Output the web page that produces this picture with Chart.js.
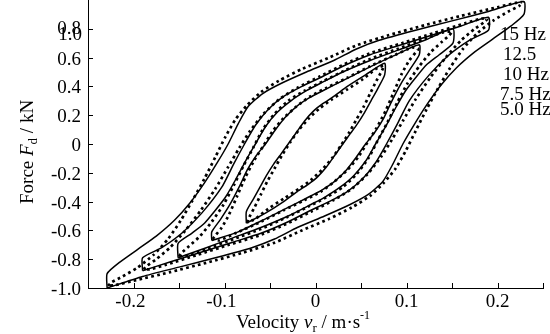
<!DOCTYPE html>
<html>
<head>
<meta charset="utf-8">
<script src="https://cdn.jsdelivr.net/npm/chart.js@4.4.1/dist/chart.umd.min.js"></script>
<style>
  html, body { margin: 0; padding: 0; background: #fff; }
  canvas { display: block; }
</style>
</head>
<body>
<canvas id="chart" width="550" height="334"></canvas>
<script>
// velocity (m/s), force (kN); solid = test, dotted = model
const solid15 = [[-0.229,-1.00],[-0.229,-0.90],[-0.215,-0.82],[-0.195,-0.73],[-0.175,-0.64],[-0.155,-0.53],[-0.138,-0.41],[-0.122,-0.27],[-0.108,-0.13],[-0.096,0.00],[-0.085,0.14],[-0.074,0.26],[-0.058,0.35],[-0.038,0.42],[-0.010,0.50],[0.020,0.58],[0.045,0.66],[0.070,0.72],[0.110,0.79],[0.150,0.855],[0.190,0.92],[0.229,0.99],
  [0.229,0.90],[0.215,0.82],[0.195,0.73],[0.175,0.64],[0.155,0.53],[0.138,0.41],[0.122,0.27],[0.108,0.13],[0.096,0.00],[0.085,-0.14],[0.074,-0.26],[0.058,-0.35],[0.038,-0.42],[0.010,-0.50],[-0.020,-0.58],[-0.045,-0.66],[-0.070,-0.72],[-0.110,-0.79],[-0.150,-0.855],[-0.190,-0.92],[-0.229,-1.00]];
const dotted15 = [[-0.228,-0.985],[-0.224,-0.96],[-0.212,-0.92],[-0.196,-0.86],[-0.178,-0.77],[-0.162,-0.66],[-0.148,-0.53],[-0.135,-0.39],[-0.122,-0.24],[-0.110,-0.09],[-0.099,0.05],[-0.088,0.17],[-0.075,0.27],[-0.060,0.36],[-0.040,0.44],[-0.015,0.52],[0.015,0.60],[0.045,0.685],[0.080,0.755],[0.120,0.825],[0.160,0.89],[0.200,0.95],[0.220,0.98],[0.228,0.985],
  [0.224,0.96],[0.212,0.92],[0.196,0.86],[0.178,0.77],[0.162,0.66],[0.148,0.53],[0.135,0.39],[0.122,0.24],[0.110,0.09],[0.099,-0.05],[0.088,-0.17],[0.075,-0.27],[0.060,-0.36],[0.040,-0.44],[0.015,-0.52],[-0.015,-0.60],[-0.045,-0.685],[-0.080,-0.755],[-0.120,-0.825],[-0.160,-0.89],[-0.200,-0.95],[-0.220,-0.98],[-0.228,-0.985]];

const solid125 = [[-0.190,-0.88],[-0.190,-0.79],[-0.169,-0.72],[-0.147,-0.62],[-0.125,-0.48],[-0.103,-0.30],[-0.090,-0.14],[-0.078,0.00],[-0.066,0.13],[-0.052,0.24],[-0.035,0.33],[-0.015,0.40],[0.005,0.46],[0.030,0.54],[0.060,0.62],[0.090,0.68],[0.125,0.75],[0.160,0.82],[0.190,0.88],
  [0.190,0.79],[0.169,0.72],[0.147,0.62],[0.125,0.48],[0.103,0.30],[0.090,0.14],[0.078,0.00],[0.066,-0.13],[0.052,-0.24],[0.035,-0.33],[0.015,-0.40],[-0.005,-0.46],[-0.030,-0.54],[-0.060,-0.62],[-0.090,-0.68],[-0.125,-0.75],[-0.160,-0.82],[-0.190,-0.88]];
const dotted125 = [[-0.189,-0.87],[-0.185,-0.845],[-0.175,-0.80],[-0.160,-0.72],[-0.143,-0.60],[-0.126,-0.46],[-0.110,-0.31],[-0.096,-0.16],[-0.084,-0.03],[-0.072,0.09],[-0.057,0.21],[-0.040,0.31],[-0.020,0.39],[0.005,0.47],[0.032,0.555],[0.062,0.635],[0.095,0.70],[0.130,0.77],[0.165,0.84],[0.182,0.87],[0.189,0.87],
  [0.185,0.845],[0.175,0.80],[0.160,0.72],[0.143,0.60],[0.126,0.46],[0.110,0.31],[0.096,0.16],[0.084,0.03],[0.072,-0.09],[0.057,-0.21],[0.040,-0.31],[0.020,-0.39],[-0.005,-0.47],[-0.032,-0.555],[-0.062,-0.635],[-0.095,-0.70],[-0.130,-0.77],[-0.165,-0.84],[-0.182,-0.87],[-0.189,-0.87]];

const solid10 = [[-0.151,-0.79],[-0.151,-0.69],[-0.136,-0.62],[-0.122,-0.55],[-0.110,-0.46],[-0.099,-0.37],[-0.088,-0.25],[-0.077,-0.12],[-0.066,0.00],[-0.055,0.12],[-0.042,0.22],[-0.027,0.30],[-0.010,0.37],[0.005,0.42],[0.030,0.50],[0.060,0.58],[0.090,0.65],[0.120,0.72],[0.151,0.80],
  [0.151,0.70],[0.136,0.62],[0.122,0.55],[0.110,0.46],[0.099,0.37],[0.088,0.25],[0.077,0.12],[0.066,0.00],[0.055,-0.12],[0.042,-0.22],[0.027,-0.30],[0.010,-0.37],[-0.005,-0.42],[-0.030,-0.50],[-0.060,-0.58],[-0.090,-0.65],[-0.120,-0.72],[-0.151,-0.79]];
const dotted10 = [[-0.150,-0.78],[-0.147,-0.755],[-0.139,-0.71],[-0.127,-0.64],[-0.114,-0.54],[-0.101,-0.42],[-0.090,-0.29],[-0.079,-0.15],[-0.068,-0.02],[-0.058,0.10],[-0.045,0.21],[-0.030,0.30],[-0.012,0.37],[0.008,0.435],[0.032,0.51],[0.060,0.59],[0.090,0.66],[0.120,0.73],[0.140,0.775],[0.150,0.78],
  [0.147,0.755],[0.139,0.71],[0.127,0.64],[0.114,0.54],[0.101,0.42],[0.090,0.29],[0.079,0.15],[0.068,0.02],[0.058,-0.10],[0.045,-0.21],[0.030,-0.30],[0.012,-0.37],[-0.008,-0.435],[-0.032,-0.51],[-0.060,-0.59],[-0.090,-0.66],[-0.120,-0.73],[-0.140,-0.775],[-0.150,-0.78]];

const solid75 = [[-0.114,-0.67],[-0.114,-0.61],[-0.104,-0.52],[-0.094,-0.42],[-0.084,-0.30],[-0.075,-0.18],[-0.065,-0.08],[-0.055,0.00],[-0.045,0.09],[-0.034,0.18],[-0.021,0.26],[-0.007,0.32],[0.008,0.37],[0.030,0.44],[0.055,0.52],[0.085,0.61],[0.114,0.69],
  [0.114,0.62],[0.104,0.52],[0.094,0.42],[0.084,0.30],[0.075,0.18],[0.065,0.08],[0.055,0.00],[0.045,-0.09],[0.034,-0.18],[0.021,-0.26],[0.007,-0.32],[-0.008,-0.37],[-0.030,-0.44],[-0.055,-0.52],[-0.085,-0.61],[-0.114,-0.67]];
const dotted75 = [[-0.113,-0.66],[-0.110,-0.635],[-0.103,-0.58],[-0.095,-0.49],[-0.086,-0.36],[-0.077,-0.23],[-0.067,-0.11],[-0.057,-0.01],[-0.047,0.09],[-0.035,0.18],[-0.021,0.26],[-0.006,0.33],[0.012,0.39],[0.035,0.46],[0.060,0.54],[0.088,0.62],[0.106,0.67],[0.113,0.66],
  [0.110,0.635],[0.103,0.58],[0.095,0.49],[0.086,0.36],[0.077,0.23],[0.067,0.11],[0.057,0.01],[0.047,-0.09],[0.035,-0.18],[0.021,-0.26],[0.006,-0.33],[-0.012,-0.39],[-0.035,-0.46],[-0.060,-0.54],[-0.088,-0.62],[-0.106,-0.67],[-0.113,-0.66]];

const solid50 = [[-0.076,-0.55],[-0.076,-0.47],[-0.068,-0.38],[-0.061,-0.30],[-0.054,-0.22],[-0.046,-0.14],[-0.038,-0.07],[-0.030,0.00],[-0.021,0.08],[-0.012,0.16],[-0.002,0.23],[0.008,0.28],[0.020,0.33],[0.035,0.40],[0.055,0.48],[0.076,0.56],
  [0.076,0.48],[0.068,0.38],[0.061,0.30],[0.054,0.22],[0.046,0.14],[0.038,0.07],[0.030,0.00],[0.021,-0.08],[0.012,-0.16],[0.002,-0.23],[-0.008,-0.28],[-0.020,-0.33],[-0.035,-0.40],[-0.055,-0.48],[-0.076,-0.55]];
const dotted50 = [[-0.075,-0.545],[-0.073,-0.51],[-0.067,-0.44],[-0.060,-0.35],[-0.053,-0.26],[-0.045,-0.17],[-0.037,-0.08],[-0.028,0.01],[-0.018,0.10],[-0.007,0.18],[0.005,0.25],[0.018,0.31],[0.035,0.38],[0.052,0.45],[0.066,0.52],[0.075,0.545],
  [0.073,0.51],[0.067,0.44],[0.060,0.35],[0.053,0.26],[0.045,0.17],[0.037,0.08],[0.028,-0.01],[0.018,-0.10],[0.007,-0.18],[-0.005,-0.25],[-0.018,-0.31],[-0.035,-0.38],[-0.052,-0.45],[-0.066,-0.52],[-0.075,-0.545]];

const legendLabels = ["15 Hz", "12.5", "10 Hz", "7.5 Hz", "5.0 Hz"];
const xTickValues = [-0.2, -0.1, 0, 0.1, 0.2];
const xTickLabels = ["-0.2", "-0.1", "0", "0.1", "0.2"];
const yTickValues = [-1.0, -0.8, -0.6, -0.4, -0.2, 0, 0.2, 0.4, 0.6, 0.8];
const yTickLabels = ["-1.0", "-0.8", "-0.6", "-0.4", "-0.2", "0", "0.2", "0.4", "0.6", "0.8"];

const FONT = '"Liberation Serif", "Times New Roman", serif';

function line(points, dotted) {
  return {
    data: points.map(p => ({ x: p[0], y: p[1] })),
    showLine: true,
    fill: false,
    borderColor: "#000",
    borderWidth: dotted ? 2.7 : 1.5,
    borderDash: dotted ? [2.7, 3.3] : [],
    pointRadius: 0,
    tension: 0.2
  };
}

// draws a run of text pieces (normal / italic / sub / sup) from x,y along the baseline
function drawRich(ctx, parts, x, y) {
  for (const p of parts) {
    ctx.font = p.font;
    ctx.fillText(p.t, x, y + (p.dy || 0));
    x += ctx.measureText(p.t).width;
  }
}

const decor = {
  id: "decor",
  afterDraw(chart) {
    const { ctx, chartArea: a, scales: { x, y } } = chart;
    ctx.save();
    ctx.strokeStyle = "#000";
    ctx.fillStyle = "#000";
    ctx.lineWidth = 1;

    // inward tick marks
    ctx.beginPath();
    for (const t of x.ticks) {
      const px = Math.round(x.getPixelForValue(t.value)) + 0.5;
      ctx.moveTo(px, a.bottom);
      ctx.lineTo(px, a.bottom - 5);
    }
    for (const v of yTickValues) {
      const py = Math.round(y.getPixelForValue(v)) + 0.5;
      ctx.moveTo(a.left, py);
      ctx.lineTo(a.left + 5, py);
    }
    ctx.stroke();

    const main = "19px " + FONT;
    ctx.font = main;

    // x tick labels, digits centred on the tick, minus hanging left
    ctx.textAlign = "left";
    ctx.textBaseline = "alphabetic";
    xTickValues.forEach((v, i) => {
      const lab = xTickLabels[i];
      const body = lab.replace("-", "");
      const wBody = ctx.measureText(body).width;
      const wMinus = lab.startsWith("-") ? ctx.measureText("-").width : 0;
      const px = x.getPixelForValue(v);
      ctx.fillText(lab, px - wBody / 2 - wMinus, a.bottom + 19);
    });

    // y tick labels
    ctx.textAlign = "right";
    yTickValues.forEach((v, i) => {
      const py = y.getPixelForValue(v);
      const dy = v === 0.8 ? 5 : 7;
      ctx.fillText(yTickLabels[i], a.left - 7, py + dy);
    });
    // the "1.0" label sits on top of "0.8" in the original
    ctx.fillText("1.0", a.left - 6, y.getPixelForValue(0.8) + 11);

    // legend
    ctx.textAlign = "left";
    const legendY = [40, 60, 80, 100, 115];
    const legendX = [500, 503, 503, 500, 500];
    legendLabels.forEach((s, i) => ctx.fillText(s, legendX[i], legendY[i]));

    // x axis title
    const it = "italic 19px " + FONT;
    const small = "13px " + FONT;
    const xParts = [
      { t: "Velocity ", font: main },
      { t: "v", font: it },
      { t: "r", font: small, dy: 4 },
      { t: " / m\u00b7s", font: main },
      { t: "-1", font: "12px " + FONT, dy: -9 }
    ];
    drawRich(ctx, xParts, 236, 328);

    // y axis title, rotated
    ctx.save();
    ctx.translate(33, 204);
    ctx.rotate(-Math.PI / 2);
    const yParts = [
      { t: "Force ", font: main },
      { t: "F", font: it },
      { t: "d", font: small, dy: 4 },
      { t: " / kN", font: main }
    ];
    drawRich(ctx, yParts, 0, 0);
    ctx.restore();

    ctx.restore();
  }
};

new Chart(document.getElementById("chart"), {
  type: "scatter",
  data: {
    datasets: [
      line(solid15, false), line(dotted15, true),
      line(solid125, false), line(dotted125, true),
      line(solid10, false), line(dotted10, true),
      line(solid75, false), line(dotted75, true),
      line(solid50, false), line(dotted50, true)
    ]
  },
  options: {
    responsive: false,
    animation: false,
    devicePixelRatio: 1,
    events: [],
    layout: { padding: { top: 0, right: 7, left: 0, bottom: 0 } },
    plugins: { legend: { display: false }, tooltip: { enabled: false } },
    scales: {
      x: {
        type: "linear",
        min: -0.25,
        max: 0.25,
        ticks: { display: false, stepSize: 0.05 },
        grid: { display: true, drawOnChartArea: false, drawTicks: false },
        border: { display: true, color: "#000", width: 1 },
        afterFit: s => { s.height = 46; }
      },
      y: {
        type: "linear",
        min: -1,
        max: 1,
        ticks: { display: false, stepSize: 0.2 },
        grid: { display: true, drawOnChartArea: false, drawTicks: false },
        border: { display: true, color: "#000", width: 1 },
        afterFit: s => { s.width = 88; }
      }
    }
  },
  plugins: [decor]
});
</script>
</body>
</html>
